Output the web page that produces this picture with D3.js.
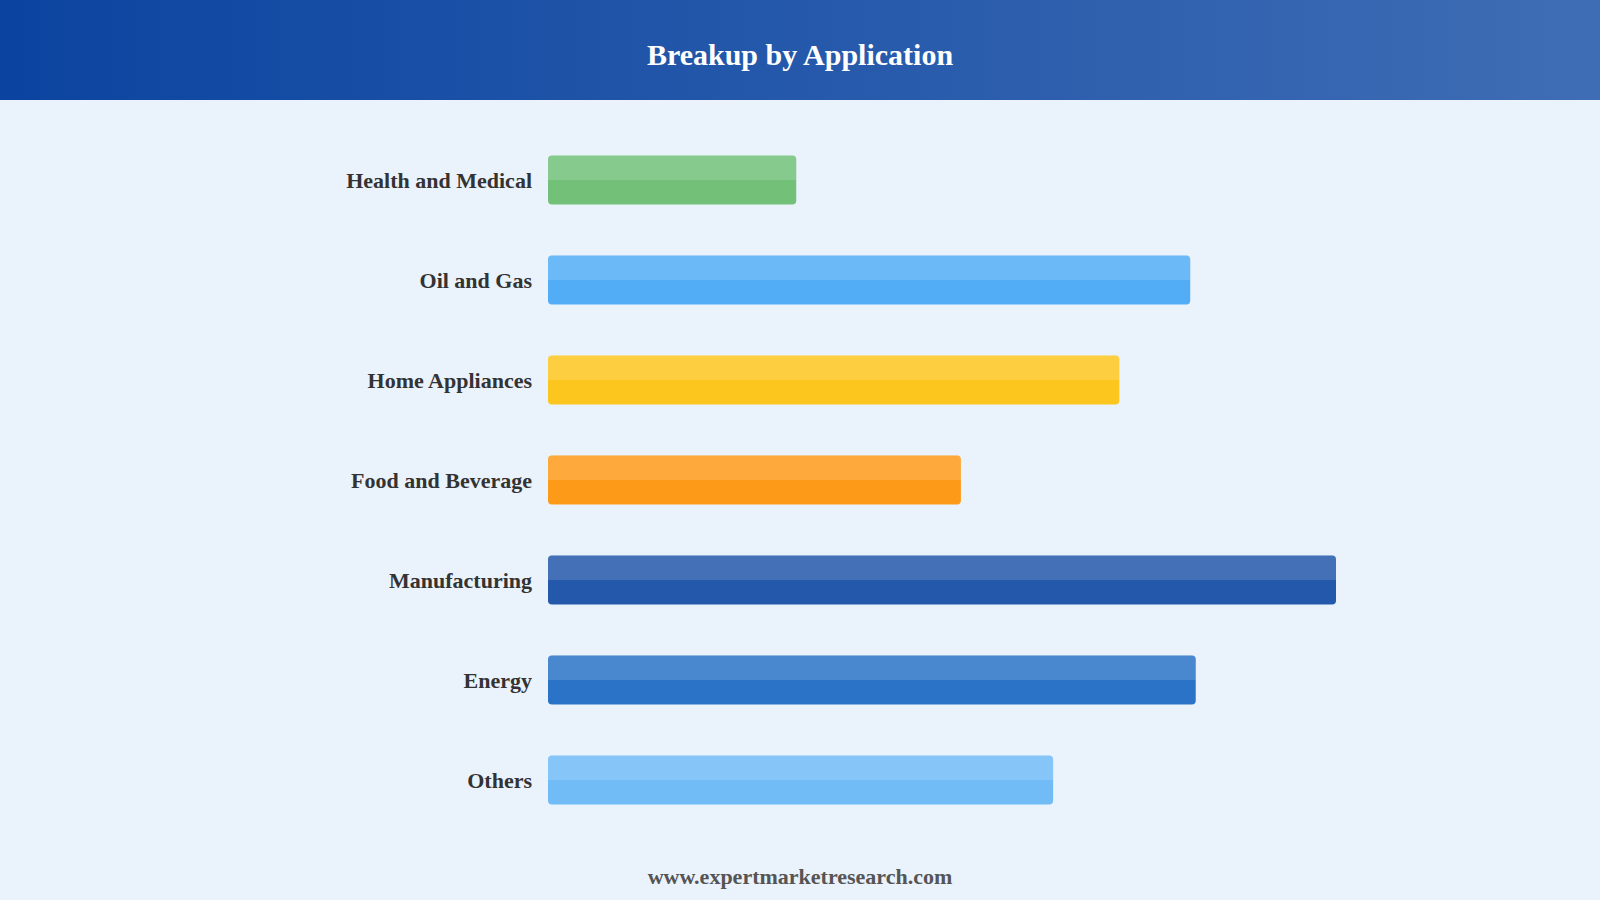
<!DOCTYPE html>
<html>
<head>
    <title>Breakup by Application</title>
    <meta charset="utf-8">
    <script src="https://cdn.jsdelivr.net/npm/d3@7"></script>
    <style>
        body {
            margin: 0;
            background: #eaf2fc;
        }

        svg {
            display: block;
        }

        .label {
            font-family: "Liberation Serif", "Times New Roman", serif;
            font-weight: bold;
            font-size: 22px;
            fill: #333333;
        }
    </style>
</head>
<body>
<svg width="1600" height="900"></svg>
<script type="text/javascript">

var categories = ['Health and Medical', 'Oil and Gas', 'Home Appliances', 'Food and Beverage',
        'Manufacturing', 'Energy', 'Others'],
    values = [31.5, 81.5, 72.5, 52.4, 100, 82.2, 64.1],
    barColors = ['#66bb6a', '#42a5f5', '#ffc107', '#ff9100', '#0d47a1', '#1565c0', '#64b5f6'],
    titleText = 'Breakup by Application',
    footerText = 'www.expertmarketresearch.com';

var width = 1600,
    height = 900,
    headerHeight = 100,
    left = 548,
    svg = d3.select('svg');

// header band with a soft left-to-right gradient
var defs = svg.append('defs');
var grad = defs.append('linearGradient')
    .attr('id', 'headerGrad')
    .attr('x1', '0%').attr('x2', '100%')
    .attr('y1', '0%').attr('y2', '0%');
grad.append('stop').attr('offset', '0%').attr('stop-color', '#0b44a0');
grad.append('stop').attr('offset', '100%').attr('stop-color', '#3f6db5');

svg.append('rect')
    .attr('width', width)
    .attr('height', height)
    .attr('fill', '#eaf2fc');

svg.append('rect')
    .attr('width', width)
    .attr('height', headerHeight)
    .attr('fill', 'url(#headerGrad)');

svg.append('text')
    .attr('x', width / 2)
    .attr('y', 54)
    .attr('dy', '0.35em')
    .attr('text-anchor', 'middle')
    .style('font-family', '"Liberation Serif", "Times New Roman", serif')
    .style('font-weight', 'bold')
    .style('font-size', '30px')
    .style('fill', '#ffffff')
    .text(titleText);

var x = d3.scaleLinear()
    .domain([0, d3.max(values)])
    .range([0, 788]);

var y = d3.scaleBand()
    .domain(categories)
    .range([130, 830])
    .paddingInner(0.51)
    .paddingOuter(0.255);

var rows = svg.selectAll('g.row')
    .data(categories)
    .enter()
    .append('g')
    .attr('class', 'row')
    .attr('transform', function (d) {
        return 'translate(0,' + y(d) + ')';
    });

var bh = y.bandwidth();

rows.append('rect')
    .attr('x', left)
    .attr('width', function (d, i) {
        return x(values[i]);
    })
    .attr('height', bh)
    .attr('rx', 4)
    .attr('fill', function (d, i) {
        return barColors[i];
    })
    .attr('fill-opacity', 0.9);

// lighter upper half
rows.append('path')
    .attr('d', function (d, i) {
        var w = x(values[i]), r = 4, h = bh / 2;
        return 'M' + left + ',' + h + 'V' + r + 'Q' + left + ',0 ' + (left + r) + ',0' +
            'H' + (left + w - r) + 'Q' + (left + w) + ',0 ' + (left + w) + ',' + r +
            'V' + h + 'Z';
    })
    .attr('fill', '#ffffff')
    .attr('fill-opacity', 0.15);

rows.append('text')
    .attr('class', 'label')
    .attr('x', left - 16)
    .attr('y', bh / 2)
    .attr('dy', '0.35em')
    .attr('text-anchor', 'end')
    .text(function (d) {
        return d;
    });

svg.append('text')
    .attr('x', width / 2)
    .attr('y', 876)
    .attr('dy', '0.35em')
    .attr('text-anchor', 'middle')
    .style('font-family', '"Liberation Serif", "Times New Roman", serif')
    .style('font-weight', 'bold')
    .style('font-size', '22px')
    .style('fill', '#555555')
    .text(footerText);

</script>
</body>
</html>
